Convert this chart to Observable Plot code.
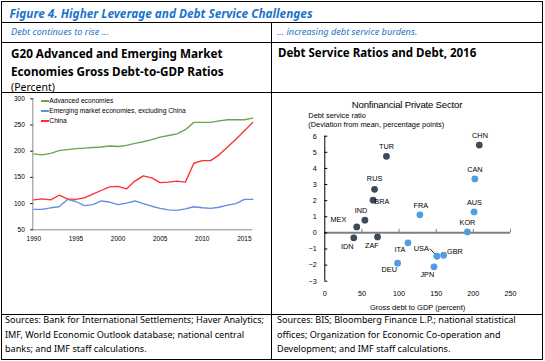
<!DOCTYPE html>
<html><head><meta charset="utf-8">
<script src="https://cdn.jsdelivr.net/npm/d3@7"></script>
<script src="https://cdn.jsdelivr.net/npm/@observablehq/plot@0.6"></script>
<style>
html,body{margin:0;padding:0;background:#fff;}
#fig{position:relative;width:545px;height:361px;overflow:hidden;font-family:"Noto Sans","Open Sans",sans-serif;color:#000;}
#fig .t{position:absolute;white-space:nowrap;}
#fig .ln{position:absolute;background:#000;}
#fig .chart{position:absolute;}
#fig .chart svg{display:block;}
</style></head><body><div id="fig"></div>
<script>
// ---------------- data: left chart ----------------
const years = [1990,1991,1992,1993,1994,1995,1996,1997,1998,1999,2000,2001,2002,2003,2004,2005,2006,2007,2008,2009,2010,2011,2012,2013,2014,2015,2016];
const advancedEconomies = [195,193,196,201,203,205,206,207,208,210,209,211,215,218,222,227,230,233,241,255,255,255,258,260,260,260,263];
const emergingExChina = [89,89,92,94,108,104,96,98,105,103,98,101,105,100,95,91,88,87,90,94,92,91,93,97,100,108,108];
const china = [107,109,107,116,109,108,111,118,125,132,133,128,143,153,149,140,141,143,141,177,182,182,193,208,223,239,255];
const seriesNames = ["Advanced economies","Emerging market economies, excluding China","China"];
const leftYTicks = [50,100,150,200,250,300];
const leftXTicks = [1990,1995,2000,2005,2010,2015];

// ---------------- data: right chart ----------------
const countries = ["TUR","RUS","BRA","IND","MEX","IDN","ZAF","CHN","CAN","AUS","KOR","FRA","ITA","USA","GBR","JPN","DEU"];
const grossDebtToGDP = [83,67,65,54,43,39,71,208,202,201,192,128,112,151,160,147,98];
const debtServiceRatio = [4.75,2.70,2.03,0.79,0.37,-0.31,-0.25,5.45,3.35,1.30,0.06,1.12,-0.62,-1.45,-1.39,-2.11,-1.88];
const countryGroup = ["EM","EM","EM","EM","EM","EM","EM","EM","AE","AE","AE","AE","AE","AE","AE","AE","AE"];
const rightXTicks = [0,50,100,150,200,250];
const rightYTicks = [-3,-2,-1,0,1,2,3,4,5,6];

// ---------------- texts ----------------
const figTitle = "Figure 4. Higher Leverage and Debt Service Challenges";
const leftSub = "Debt continues to rise ...";
const rightSub = "... increasing debt service burdens.";
const leftTitle = ["G20 Advanced and Emerging Market","Economies Gross Debt-to-GDP Ratios"];
const leftUnit = "(Percent)";
const rightTitle = "Debt Service Ratios and Debt, 2016";
const rightChartTitle = "Nonfinancial Private Sector";
const rightYLabel = ["Debt service ratio","(Deviation from mean, percentage points)"];
const rightXLabel = "Gross debt to GDP (percent)";
const leftSource = ["Sources: Bank for International Settlements; Haver Analytics;","IMF, World Economic Outlook database; national central","banks; and IMF staff calculations."];
const rightSource = ["Sources: BIS; Bloomberg Finance L.P.; national statistical","offices; Organization for Economic Co-operation and","Development; and IMF staff calculations."];

// ---------------- layout helpers ----------------
const fig = document.getElementById("fig");
const BLUE = "#1a74cc";
function line(l, t, w, h, color) {
  const d = document.createElement("div");
  d.className = "ln";
  Object.assign(d.style, {left: l + "px", top: t + "px", width: w + "px", height: h + "px"});
  if (color) d.style.background = color;
  fig.appendChild(d);
}
function text(str, left, cy, css) {
  const d = document.createElement("div");
  d.className = "t";
  d.textContent = str;
  const lh = 16;
  Object.assign(d.style, {left: left + "px", top: (cy - lh / 2) + "px", lineHeight: lh + "px"}, css || {});
  fig.appendChild(d);
  return d;
}

// borders
line(1, 1, 542, 1); line(1, 359, 542, 1); line(1, 1, 1, 359); line(542, 1, 1, 359);
line(1, 22, 542, 1); line(1, 42, 542, 1); line(1, 92, 542, 1); line(1, 314, 542, 1);
line(271, 22, 1, 338);

// header texts
text(figTitle, 9.5, 12.5, {fontWeight: "bold", fontStyle: "italic", fontSize: "11.8px", color: BLUE});
text(leftSub, 11, 32, {fontStyle: "italic", fontSize: "9.2px", color: BLUE});
text(rightSub, 277, 32, {fontStyle: "italic", fontSize: "9.2px", color: BLUE});
text(leftTitle[0], 11, 53, {fontWeight: "bold", fontSize: "11.7px"});
text(leftTitle[1], 11, 71, {fontWeight: "bold", fontSize: "11.7px"});
text(leftUnit, 11, 87, {fontSize: "10.5px"});
text(rightTitle, 278, 53, {fontWeight: "bold", fontSize: "11.5px"});
leftSource.forEach((s, i) => text(s, 5, 320 + i * 14.6, {fontSize: "9.1px"}));
rightSource.forEach((s, i) => text(s, 277, 320 + i * 14.6, {fontSize: "9.1px"}));

// ---------------- left chart ----------------
const lineColors = ["#6aa650", "#5d8fe3", "#ff2e2e"];
const seriesValues = [advancedEconomies, emergingExChina, china];
const longData = seriesNames.flatMap((name, s) => years.map((y, i) => ({year: y, value: seriesValues[s][i], series: name})));
const chartFont = "'Liberation Sans', Arial, sans-serif";

const left = Plot.plot({
  width: 269, height: 222,
  marginLeft: 31.3, marginRight: 18.7, marginTop: 6.3, marginBottom: 84.7,
  style: {fontFamily: chartFont, fontSize: "6.5px", color: "#000", background: "transparent", overflow: "visible"},
  x: {domain: [years[0], years[years.length - 1]], ticks: leftXTicks, tickFormat: d => String(d), tickSize: 0, tickPadding: 6.5, label: null},
  y: {domain: [leftYTicks[0], leftYTicks[leftYTicks.length - 1]], ticks: leftYTicks, tickSize: 3, tickPadding: 6, label: null},
  color: {domain: seriesNames, range: lineColors},
  marks: [
    Plot.ruleX([years[0]], {stroke: "#8c8c8c", dx: -1}),
    Plot.ruleY([leftYTicks[0]], {stroke: "#8c8c8c"}),
    Plot.line(longData, {x: "year", y: "value", stroke: "series", z: "series", strokeWidth: 1.35})
  ]
});
const leftWrap = document.createElement("div");
leftWrap.className = "chart";
Object.assign(leftWrap.style, {left: "2px", top: "92px"});
leftWrap.appendChild(left);
fig.appendChild(leftWrap);

// left legend (inside the chart area)
seriesNames.forEach((name, i) => {
  line(41, 100.3 + i * 10, 7.5, 1.3, lineColors[i]);
  text(name, 49.3, 100.8 + i * 10, {fontFamily: chartFont, fontSize: "6.7px"});
});

// ---------------- right chart ----------------
const rows = countries.map((code, i) => ({code, debt: grossDebtToGDP[i], dsr: debtServiceRatio[i], group: countryGroup[i]}));
const groupColors = {EM: "#3e4a5c", AE: "#509ee2"};
const labelOffset = {
  TUR: [0, -9.6], RUS: [0, -10.3], BRA: [8.7, 1], IND: [-4, -9], MEX: [-18.3, -7.7],
  IDN: [-6.6, 8.3], ZAF: [-5.7, 8.6], CHN: [0.7, -9.7], CAN: [0, -9.4], AUS: [0.3, -9.7],
  KOR: [0, -9.4], FRA: [1, -9.4], ITA: [-8, 6.6], USA: [-15.7, -7.7], GBR: [11.3, -4],
  JPN: [-6.7, 7.3], DEU: [-8.3, 7]
};

const right = Plot.plot({
  width: 270, height: 222,
  marginLeft: 52.3, marginRight: 32, marginTop: 43.7, marginBottom: 33.3,
  style: {fontFamily: chartFont, fontSize: "7.2px", color: "#000", background: "transparent", overflow: "visible"},
  x: {domain: [rightXTicks[0], rightXTicks[rightXTicks.length - 1]], ticks: rightXTicks, tickSize: 0, tickPadding: 9.5, label: null},
  y: {domain: [rightYTicks[0], rightYTicks[rightYTicks.length - 1]], ticks: rightYTicks, tickSize: 0, tickPadding: 8, label: null},
  marks: [
    Plot.ruleY([0], {stroke: "#7f7f7f", strokeWidth: 2}),
    Plot.ruleX(rightXTicks.slice(1), {y1: 0, y2: 0, insetTop: -3.5, stroke: "#7f7f7f", strokeWidth: 1}),
    Plot.ruleX([rightXTicks[0]], {stroke: "#000", strokeWidth: 1}),
    Plot.ruleY(rightYTicks, {x1: 0, x2: 0, insetRight: -3, stroke: "#000", strokeWidth: 1}),
    Plot.vector(rows.filter(r => r.code === "USA"), {x: "debt", y: "dsr", length: 10, rotate: 137, anchor: "end", stroke: "#000", strokeWidth: 0.8}),
    Plot.dot(rows, {x: "debt", y: "dsr", r: 3.4, fill: d => groupColors[d.group], stroke: "none"}),
    ...rows.map(r => Plot.text([r], {x: "debt", y: "dsr", text: "code", dx: labelOffset[r.code][0], dy: labelOffset[r.code][1], fill: "#000", fontSize: 7.3})),
    Plot.text([rightXLabel], {frameAnchor: "bottom", dy: 26, lineAnchor: "middle", fontSize: 7.5, fill: "#000"})
  ]
});
const rightWrap = document.createElement("div");
rightWrap.className = "chart";
Object.assign(rightWrap.style, {left: "272px", top: "92px"});
rightWrap.appendChild(right);
fig.appendChild(rightWrap);

text(rightChartTitle, 407, 105, {fontFamily: chartFont, fontSize: "9.6px", transform: "translateX(-50%)", letterSpacing: "-0.2px"});
text(rightYLabel[0], 308.3, 115.5, {fontFamily: chartFont, fontSize: "7.4px"});
text(rightYLabel[1], 308.3, 124.5, {fontFamily: chartFont, fontSize: "7.4px"});
</script></body></html>
